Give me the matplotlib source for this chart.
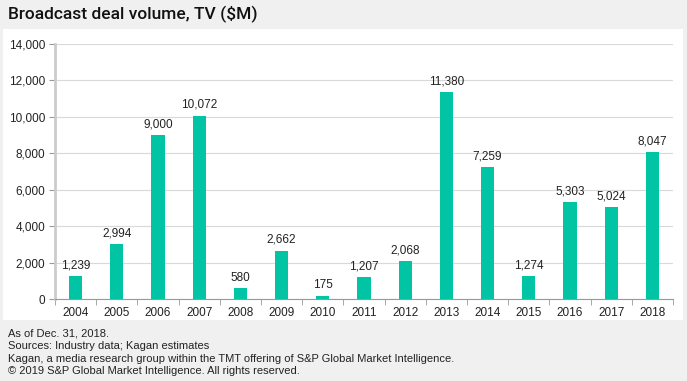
import numpy as np
import matplotlib
matplotlib.use("Agg")
import matplotlib.pyplot as plt
from matplotlib.patches import Rectangle

# --- data ---
years = ["2004", "2005", "2006", "2007", "2008", "2009", "2010", "2011",
         "2012", "2013", "2014", "2015", "2016", "2017", "2018"]
volume = [1239, 2994, 9000, 10072, 580, 2662, 175, 1207,
          2068, 11380, 7259, 1274, 5303, 5024, 8047]
yticks = [0, 2000, 4000, 6000, 8000, 10000, 12000, 14000]

title = "Broadcast deal volume, TV ($M)"
footer = ["As of Dec. 31, 2018.",
          "Sources: Industry data; Kagan estimates",
          "Kagan, a media research group within the TMT offering of S&P Global Market Intelligence.",
          "\u00a9 2019 S&P Global Market Intelligence. All rights reserved."]

BG = "#f0f0f0"
TEAL = "#00c4a3"
GRID = "#d9d9d9"

plt.rcParams["font.family"] = ["Liberation Sans", "DejaVu Sans"]

W, H = 687, 381
fig = plt.figure(figsize=(W / 100, H / 100), dpi=100, facecolor=BG)

# white panel behind the chart
fig.patches.append(Rectangle((3 / W, 1 - 320 / H), (683 - 3) / W, (320 - 29) / H,
                             transform=fig.transFigure, facecolor="white",
                             edgecolor="none", zorder=-5))

ax = fig.add_axes([55 / W, 1 - 299 / H, (673 - 55) / W, (299 - 44) / H])
ax.set_zorder(2)
ax.set_facecolor("white")

x = np.arange(len(years))
ax.bar(x, volume, width=0.32, color=TEAL, zorder=3)
for xi, v in zip(x, volume):
    ax.text(xi, v + 250, f"{v:,}", ha="center", va="bottom", fontsize=8.5, color="#222222")

ax.set_xlim(-0.5, len(years) - 0.5)
ax.set_ylim(0, 14000)
ax.set_yticks(yticks)
ax.set_yticklabels([f"{t:,}" for t in yticks], fontsize=8.5, color="#222222")
ax.set_xticks(x)
ax.set_xticklabels(years, fontsize=8.5, color="#222222")
ax.tick_params(axis="x", length=0, pad=6)
ax.tick_params(axis="y", length=4, color="#999999", pad=3)
# category boundary ticks on x axis
ax.set_xticks(np.arange(-0.5, len(years)), minor=True)
ax.tick_params(axis="x", which="minor", length=4, color="#999999")

ax.grid(axis="y", color=GRID, linewidth=0.8, zorder=0)
for s in ["top", "right"]:
    ax.spines[s].set_visible(False)
ax.spines["left"].set_color("#cccccc")
ax.spines["left"].set_linewidth(2)
ax.spines["bottom"].set_color("#999999")
ax.spines["bottom"].set_linewidth(0.8)

fig.text(8 / W, 1 - 14 / H, title, fontsize=12.5, va="center", ha="left",
         color="#111111", family=["Roboto", "DejaVu Sans"], weight="medium")

for i, line in enumerate(footer):
    fig.text(8 / W, 1 - (333 + 12.8 * i) / H, line, fontsize=8, va="center",
             ha="left", color="#222222")

fig.savefig("out.png", dpi=100, facecolor=BG)
